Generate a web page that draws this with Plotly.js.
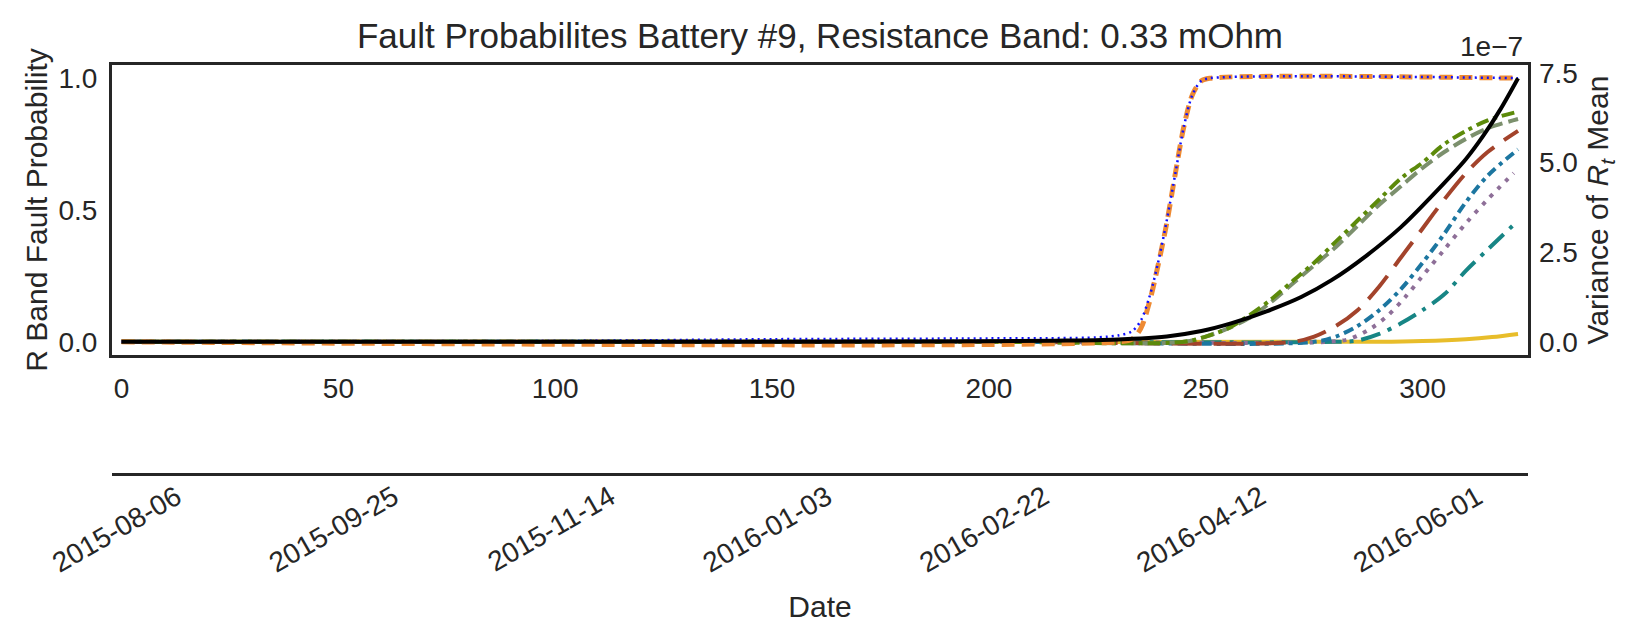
<!DOCTYPE html>
<html><head><meta charset="utf-8">
<script src="https://cdn.plot.ly/plotly-3.0.1.min.js"></script>
<style>html,body{margin:0;padding:0;background:#fff;}#chart{width:1643px;height:644px;}</style>
</head><body><div id="chart"></div>
<script>
const titleText = "Fault Probabilites Battery #9, Resistance Band: 0.33 mOhm";
const dayTicks = [0, 50, 100, 150, 200, 250, 300];
const dateTickLabels = ["2015-08-06", "2015-09-25", "2015-11-14", "2016-01-03", "2016-02-22", "2016-04-12", "2016-06-01"];
const probTicks = [0, 0.5, 1];
const probTickLabels = ["0.0", "0.5", "1.0"];
const varTicks = [0, 2.5e-7, 5e-7, 7.5e-7];
const varTickLabels = ["0.0", "2.5", "5.0", "7.5"];

// Fault probability series (left axis)
const blueDays  = [0, 100, 150, 200, 225, 230, 233, 235, 237, 239, 241, 243, 245, 247, 249, 251, 322];
const blueProb  = [0, 0.003, 0.01, 0.013, 0.017, 0.025, 0.04, 0.08, 0.17, 0.30, 0.46, 0.64, 0.82, 0.94, 0.99, 1.0, 1.0];
const orangeDays = [0, 230, 233, 235, 237, 239, 241, 243, 245, 247, 249, 251, 322];
const orangeProb = [0, 0, 0.01, 0.05, 0.15, 0.29, 0.45, 0.64, 0.82, 0.94, 0.99, 1.0, 1.0];
const greenDays = [0, 200, 245, 250, 255, 260, 265, 270, 275, 280, 285, 290, 295, 300, 305, 310, 315, 322];
const greenProb = [0, 0, 0, 0.02, 0.05, 0.10, 0.16, 0.23, 0.30, 0.38, 0.46, 0.54, 0.62, 0.68, 0.75, 0.80, 0.84, 0.873];
const sageDays  = [0, 200, 245, 250, 255, 260, 265, 270, 275, 280, 285, 290, 295, 300, 305, 310, 315, 322];
const sageProb  = [0, 0, 0, 0.02, 0.05, 0.09, 0.15, 0.22, 0.29, 0.36, 0.44, 0.52, 0.59, 0.66, 0.72, 0.77, 0.81, 0.845];
const rustDays  = [0, 200, 270, 275, 280, 285, 290, 295, 300, 305, 310, 315, 322];
const rustProb  = [0, 0, 0, 0.02, 0.06, 0.12, 0.21, 0.32, 0.43, 0.54, 0.64, 0.72, 0.80];
const steelDays = [0, 200, 275, 280, 285, 290, 295, 300, 305, 310, 315, 322];
const steelProb = [0, 0, 0, 0.02, 0.06, 0.12, 0.20, 0.30, 0.41, 0.53, 0.63, 0.73];
const mauveDays = [0, 200, 278, 283, 288, 292, 296, 300, 305, 310, 315, 321];
const mauveProb = [0, 0, 0, 0.01, 0.05, 0.10, 0.17, 0.25, 0.35, 0.45, 0.54, 0.64];
const tealDays  = [0, 200, 280, 285, 290, 295, 300, 305, 310, 315, 322];
const tealProb  = [0, 0, 0, 0.005, 0.03, 0.07, 0.12, 0.18, 0.27, 0.35, 0.46];
const yellowDays = [0, 200, 290, 300, 310, 316, 322];
const yellowProb = [0, 0, 0, 0.003, 0.01, 0.018, 0.03];

// Variance of R_t mean (right axis)
const blackDays = [0, 50, 100, 150, 180, 200, 215, 226, 241, 249, 256, 264, 272, 279, 287, 295, 302, 310, 314, 318, 322];
const blackVar  = [0, 0, 0, 0.002e-7, 0.008e-7, 0.015e-7, 0.03e-7, 0.05e-7, 0.15e-7, 0.3e-7, 0.52e-7, 0.85e-7, 1.25e-7, 1.72e-7, 2.4e-7, 3.2e-7, 4.05e-7, 5.1e-7, 5.75e-7, 6.5e-7, 7.355e-7];

const FONT = "Liberation Sans, Arial, sans-serif";
const TXT = "#262626";

function probTrace(x, y, color, width, dash) {
  return {x: x, y: y, type: "scatter", mode: "lines", xaxis: "x", yaxis: "y",
    line: {color: color, width: width, dash: dash, shape: "spline", smoothing: 0.9},
    hoverinfo: "skip", showlegend: false};
}

const traces = [
  probTrace(yellowDays, yellowProb, "#e8bd2a", 4, "solid"),
  probTrace(tealDays, tealProb, "#178585", 4, "20px,8px,4px,8px"),
  probTrace(mauveDays, mauveProb, "#8e6f98", 4, "4px,7px"),
  probTrace(steelDays, steelProb, "#1c76a0", 4, "10px,5px,4px,5px"),
  probTrace(rustDays, rustProb, "#a3432b", 4, "30px,12px"),
  probTrace(sageDays, sageProb, "#7c906d", 4, "14px,6px"),
  probTrace(greenDays, greenProb, "#5c8a0a", 4, "13px,5px,4px,5px"),
  probTrace(orangeDays, orangeProb, "#ee8a33", 5, "13px,7px"),
  probTrace(blueDays, blueProb, "#1010ff", 2.5, "2px,4px"),
  {x: blackDays, y: blackVar, type: "scatter", mode: "lines", xaxis: "x", yaxis: "y2",
   line: {color: "#000000", width: 4, shape: "spline", smoothing: 0.9}, hoverinfo: "skip", showlegend: false},
  // carrier for the date axis (no visible marks)
  {x: dayTicks, y: dayTicks.map(() => 0), type: "scatter", mode: "lines", xaxis: "x2", yaxis: "y",
   line: {width: 0, color: "rgba(0,0,0,0)"}, opacity: 0, hoverinfo: "skip", showlegend: false}
];

const xr = [-2.2, 324.3];
const layout = {
  width: 1643, height: 644,
  margin: {l: 112, r: 115, t: 65, b: 170},
  paper_bgcolor: "#ffffff", plot_bgcolor: "#ffffff",
  font: {family: FONT, color: TXT, size: 28},
  title: {text: titleText, font: {family: FONT, size: 35, color: TXT}, x: 0.5, xref: "paper", xanchor: "center", y: 1 - 36/644, yref: "container", yanchor: "middle"},
  showlegend: false,
  xaxis: {range: xr, tickvals: dayTicks, ticktext: dayTicks.map(String), showgrid: false, zeroline: false,
    showline: true, mirror: true, linecolor: "#262626", linewidth: 3, ticks: "", ticklabelstandoff: 6,
    tickfont: {size: 28, color: TXT}, anchor: "y"},
  xaxis2: {range: xr, overlaying: "x", anchor: "free", position: 0, side: "bottom",
    tickvals: dayTicks, ticktext: dateTickLabels, tickangle: -30, showgrid: false, zeroline: false,
    showline: true, linecolor: "#262626", linewidth: 3, ticks: "", ticklabelstandoff: -6, ticklabelshift: 55,
    ticklabeloverflow: "allow", tickfont: {size: 28, color: TXT},
    title: {text: "Date", font: {size: 30, color: TXT}, standoff: 18}},
  yaxis: {domain: [119/409, 1], range: [-0.05, 1.05], tickvals: probTicks, ticktext: probTickLabels,
    showgrid: false, zeroline: false, showline: true, mirror: true, linecolor: "#262626", linewidth: 3,
    ticks: "", ticklabelstandoff: 6, tickfont: {size: 28, color: TXT},
    title: {text: "R Band Fault Probability", font: {size: 30, color: TXT}, standoff: 2}},
  yaxis2: {overlaying: "y", side: "right", anchor: "x", range: [-0.368e-7, 7.723e-7],
    tickvals: varTicks, ticktext: varTickLabels, showgrid: false, zeroline: false, showline: false,
    ticks: "", ticklabelstandoff: 10, tickfont: {size: 28, color: TXT},
    title: {text: "Variance of <i>R<sub>t</sub></i> Mean", font: {size: 30, color: TXT}, standoff: 10}},
  annotations: [
    {text: "1e\u22127", xref: "paper", yref: "paper", x: (1525-112)/1416, y: (474-47)/409,
     xanchor: "right", yanchor: "middle", showarrow: false, font: {size: 28, color: TXT}}
  ]
};

Plotly.newPlot("chart", traces, layout, {staticPlot: true, displayModeBar: false});
</script>
</body></html>
